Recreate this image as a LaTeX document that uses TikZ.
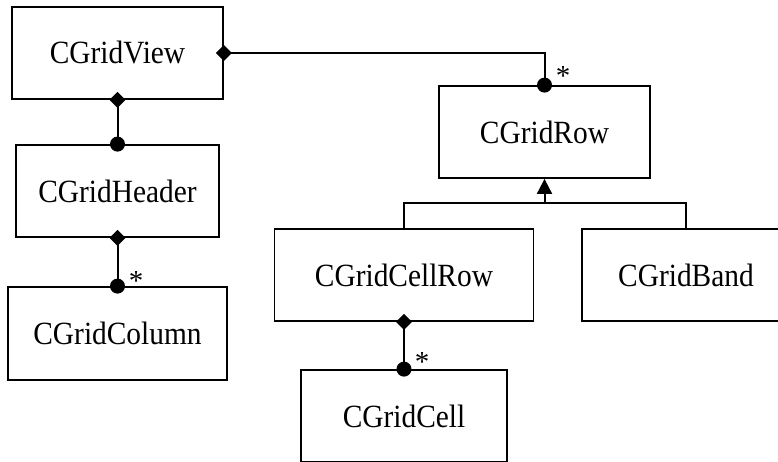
\documentclass[tikz,border=0pt]{standalone}
\usepackage{fontspec}
\setmainfont{Liberation Serif}
\usetikzlibrary{shapes.geometric,arrows.meta}
\newcommand{\tallname}[1]{\scalebox{0.98}[1.08]{#1}}
\begin{document}
\begin{tikzpicture}[x=1pt,y=-1pt,
  cls/.style={draw,line width=1.8pt,fill=white,rectangle,minimum height=92pt,
    font=\fontsize{30}{34}\selectfont,inner sep=0pt},
  conn/.style={line width=2pt},
  dia/.style={diamond,fill=black,inner sep=0pt,minimum width=16pt,minimum height=16pt},
  dot/.style={circle,fill=black,inner sep=0pt,minimum size=15pt},
  mult/.style={anchor=base,inner sep=0pt,font=\fontsize{29}{32}\selectfont}]
\useasboundingbox (0,0) rectangle (778,461);
\node[cls,minimum width=211pt] (view) at (117.5,53) {\tallname{CGridView}};
\node[cls,minimum width=203pt] (header) at (117.5,191) {\tallname{CGridHeader}};
\node[cls,minimum width=219pt,minimum height=93pt] (column) at (117.5,333.5) {\tallname{CGridColumn}};
\node[cls,minimum width=211pt] (row) at (544.5,132) {\tallname{CGridRow}};
\node[cls,minimum width=259pt] (cellrow) at (404,275) {\tallname{CGridCellRow}};
\node[cls,minimum width=208pt] (band) at (686,275) {\tallname{CGridBand}};
\node[cls,minimum width=206pt] (cell) at (404,416) {\tallname{CGridCell}};
% compositions
\draw[conn] (view.east) -| (row.north);
\draw[conn] (view.south) -- (header.north);
\draw[conn] (header.south) -- (column.north);
\draw[conn] (cellrow.south) -- (cell.north);
\node[dia] (d1) at (view.east) {};
\node[dia] (d2) at (view.south) {};
\node[dia] (d3) at (header.south) {};
\node[dia] (d4) at (cellrow.south) {};
\node[dot] (c1) at (row.north) {};
\node[dot] (c2) at (header.north) {};
\node[dot] (c3) at (column.north) {};
\node[dot] (c4) at (cell.north) {};
\node[mult] (m1) at (563,85) {*};
\node[mult] (m2) at (136,290) {*};
\node[mult] (m3) at (422,371) {*};
% inheritance
\coordinate (j) at (row.south |- 0,203);
\draw[conn] (cellrow.north) |- (j) -| (band.north);
\draw[conn,-{Triangle[width=15pt,length=15pt]}] (j) -- (row.south);
\end{tikzpicture}
\end{document}
